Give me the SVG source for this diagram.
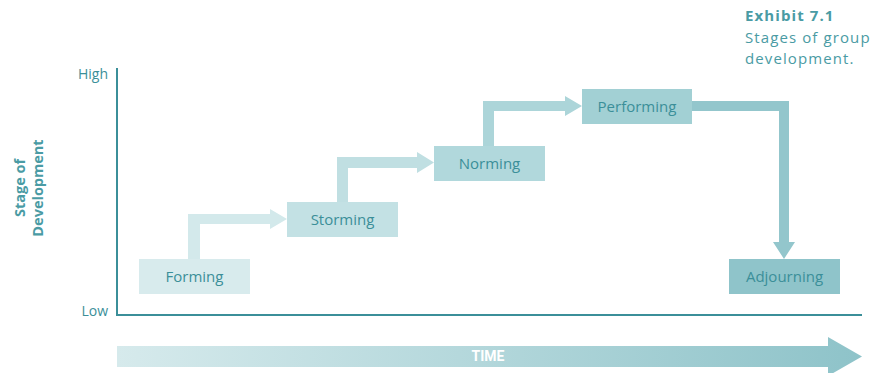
<svg xmlns="http://www.w3.org/2000/svg" width="875" height="373" viewBox="0 0 875 373">
  <defs>
    <linearGradient id="timeGrad" x1="0" y1="0" x2="1" y2="0">
      <stop offset="0" stop-color="#d6eaec"/>
      <stop offset="1" stop-color="#8ec3c9"/>
    </linearGradient>
  </defs>
  <style>
    .lbl { font-family: "Open Sans", "Noto Sans", sans-serif; font-size: 15px; fill: #3b8f99; text-anchor: middle; }
    .axis { stroke: #3b8f99; stroke-width: 2; fill: none; }
    .tick { font-family: "Open Sans", "Noto Sans", sans-serif; font-size: 14px; fill: #3b8f99; text-anchor: end; }
    .ylab { font-family: "Open Sans", "Noto Sans", sans-serif; font-size: 14.5px; font-weight: bold; fill: #4a9ba4; text-anchor: middle; }
    .title { font-family: "Open Sans", "Noto Sans", sans-serif; font-size: 15px; letter-spacing: 1.1px; fill: #4a9ba4; }
  </style>

  <rect width="875" height="373" fill="#ffffff"/>

  <!-- caption -->
  <g id="caption">
    <text class="title" x="745" y="21" font-size="16" font-weight="bold" letter-spacing="1">Exhibit 7.1</text>
    <text class="title" x="745" y="43">Stages of group</text>
    <text class="title" x="745" y="64">development.</text>
  </g>

  <!-- axes -->
  <g id="axes">
    <path class="axis" d="M117 68 V315 H862"/>
    <text class="tick" x="108" y="79">High</text>
    <text class="tick" x="108" y="316">Low</text>
    <text class="ylab" transform="translate(25 188) rotate(-90)">Stage of</text>
    <text class="ylab" transform="translate(43 188) rotate(-90)">Development</text>
  </g>

  <!-- connectors -->
  <g id="connectors">
    <path d="M188 259 V214 H270 V209 L287 219 L270 229 V224 H200 V259 Z" fill="#d3e9eb"/>
    <path d="M337 202 V157 H417 V152 L434 162.5 L417 173 V168 H348 V202 Z" fill="#c0dfe2"/>
    <path d="M483 146 V101 H565 V96 L582 106 L565 116 V111 H494 V146 Z" fill="#acd5d9"/>
    <path d="M692 101 H789 V242 H795 L784 259 L773 242 H779 V111 H692 Z" fill="#93c6cc"/>
  </g>

  <!-- stages -->
  <g id="forming">
    <rect x="139" y="259" width="111" height="35" fill="#d8ebed"/>
    <text class="lbl" x="194.5" y="282">Forming</text>
  </g>
  <g id="storming">
    <rect x="287" y="202" width="111" height="35" fill="#c3e1e4"/>
    <text class="lbl" x="342.5" y="225">Storming</text>
  </g>
  <g id="norming">
    <rect x="434" y="146" width="111" height="35" fill="#b1d8dc"/>
    <text class="lbl" x="489.5" y="169">Norming</text>
  </g>
  <g id="performing">
    <rect x="582" y="89" width="110" height="35" fill="#a2d0d4"/>
    <text class="lbl" x="637" y="112">Performing</text>
  </g>
  <g id="adjourning">
    <rect x="729" y="259" width="111" height="35" fill="#8fc4ca"/>
    <text class="lbl" x="784.5" y="282">Adjourning</text>
  </g>

  <!-- time arrow -->
  <g id="time">
    <path d="M117 346 H828 V337 L862 356.5 L828 376 V367 H117 Z" fill="url(#timeGrad)"/>
    <text x="488" y="361" font-family="'Liberation Sans Narrow', 'Roboto', sans-serif" font-size="14" font-weight="bold" fill="#ffffff" text-anchor="middle">TIME</text>
  </g>
</svg>
